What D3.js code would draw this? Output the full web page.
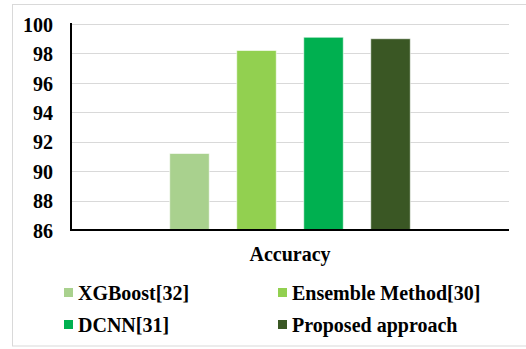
<!DOCTYPE html>
<html>
<head>
<meta charset="utf-8">
<script src="https://cdn.jsdelivr.net/npm/d3@7"></script>
<style>
  html, body { margin: 0; padding: 0; background: #fff; }
  svg { display: block; }
</style>
</head>
<body>
<svg id="chart" width="526" height="349"></svg>
<script>
// Accuracy of each method (%)
const categories = ["Accuracy"];
const seriesNames = ["XGBoost[32]", "Ensemble Method[30]", "DCNN[31]", "Proposed approach"];
const seriesValues = [91.2, 98.2, 99.1, 99.0];
const seriesColors = ["#a9d18e", "#92d050", "#00b050", "#3a5724"];
const yTicks = [86, 88, 90, 92, 94, 96, 98, 100];

const FONT = "Liberation Serif";
const svg = d3.select("#chart");
const plot = { left: 71, right: 509, top: 24, bottom: 230 };

// serif bold label style, set on each text node
function labelStyle(sel) {
  sel.attr("font-family", FONT)
     .attr("font-size", 20)
     .attr("font-weight", "bold")
     .attr("fill", "#000");
}

// outer frame
svg.append("rect")
  .attr("x", 12.5).attr("y", 4.5)
  .attr("width", 530).attr("height", 341.5)
  .attr("fill", "none").attr("stroke", "#d9d9d9").attr("stroke-width", 1);

const y = d3.scaleLinear().domain([86, 100]).range([plot.bottom, plot.top]);
const x0 = d3.scaleBand().domain(categories).range([plot.left, plot.right])
  .paddingInner(0).paddingOuter(0.317);
const x1 = d3.scaleBand().domain(seriesNames).range([0, x0.bandwidth()])
  .paddingInner(0.41).paddingOuter(0.205);

// horizontal gridlines
svg.append("g")
  .selectAll("line")
  .data(yTicks.filter(t => t !== 86))
  .join("line")
  .attr("x1", plot.left).attr("x2", plot.right)
  .attr("y1", d => Math.round(y(d)) + 0.5).attr("y2", d => Math.round(y(d)) + 0.5)
  .attr("stroke", "#d9d9d9").attr("stroke-width", 1);

// bars
const groups = svg.append("g")
  .selectAll("g")
  .data(categories)
  .join("g")
  .attr("transform", d => `translate(${x0(d)},0)`);

groups.selectAll("rect")
  .data(() => seriesNames.map((name, i) => ({ name, value: seriesValues[i], color: seriesColors[i] })))
  .join("rect")
  .attr("x", d => x1(d.name))
  .attr("y", d => y(d.value))
  .attr("width", x1.bandwidth())
  .attr("height", d => y(86) - y(d.value))
  .attr("fill", d => d.color)
  .attr("stroke", "#ffffff").attr("stroke-opacity", 0.6).attr("stroke-width", 1);

// y axis
const yAxis = d3.axisLeft(y).tickValues(yTicks).tickSize(0).tickPadding(18).tickFormat(d3.format("d"));
const gy = svg.append("g").attr("transform", `translate(${plot.left},0)`).call(yAxis);
gy.attr("font-family", null).attr("font-size", null);
gy.select(".domain").remove();
gy.selectAll("text").call(labelStyle).attr("dy", "0.36em");

svg.append("line")
  .attr("x1", plot.left).attr("x2", plot.left)
  .attr("y1", plot.top - 1).attr("y2", plot.bottom + 1)
  .attr("stroke", "#000").attr("stroke-width", 2);

// x axis
const xAxis = d3.axisBottom(x0).tickSize(0).tickPadding(0);
const gx = svg.append("g").attr("transform", `translate(0,${plot.bottom})`).call(xAxis);
gx.attr("font-family", null).attr("font-size", null);
gx.select(".domain").remove();
gx.selectAll("text").call(labelStyle).attr("y", 31).attr("dy", 0);

svg.append("line")
  .attr("x1", plot.left - 1).attr("x2", plot.right)
  .attr("y1", plot.bottom).attr("y2", plot.bottom)
  .attr("stroke", "#000").attr("stroke-width", 2);

// legend
const legendPos = [[64, 288], [278, 288], [64, 320], [278, 320]];
const legend = svg.append("g")
  .selectAll("g")
  .data(seriesNames)
  .join("g")
  .attr("transform", (d, i) => `translate(${legendPos[i][0]},${legendPos[i][1]})`);
legend.append("rect")
  .attr("width", 9).attr("height", 9)
  .attr("fill", (d, i) => seriesColors[i]);
legend.append("text")
  .attr("x", 14).attr("y", 12)
  .call(labelStyle)
  .text(d => d);
</script>
</body>
</html>
